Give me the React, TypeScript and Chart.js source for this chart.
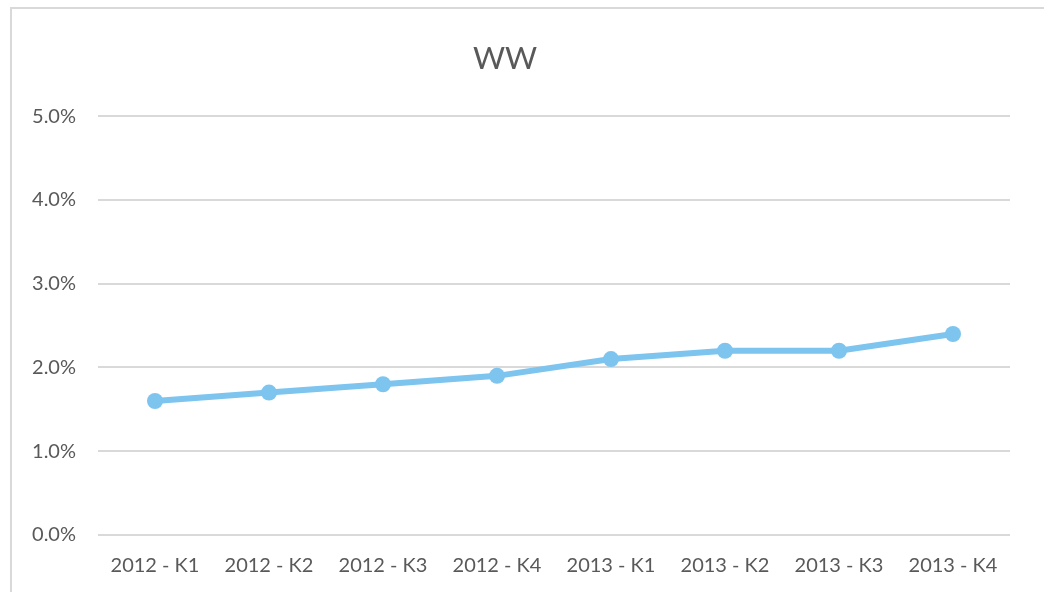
import React, { useEffect, useRef } from "react";
import { Chart, registerables } from "chart.js";

Chart.register(...registerables);

const categories = ["2012 - K1", "2012 - K2", "2012 - K3", "2012 - K4", "2013 - K1", "2013 - K2", "2013 - K3", "2013 - K4"];
const wwValues = [1.6, 1.7, 1.8, 1.9, 2.1, 2.2, 2.2, 2.4];
const yTicks = [0, 1, 2, 3, 4, 5];
const chartTitle = "WW";

export default function App() {
  const ref = useRef<HTMLCanvasElement | null>(null);
  useEffect(() => {
    if (!ref.current) return;
    const font = "Lato, 'Open Sans', sans-serif";
    const chart = new Chart(ref.current, {
      type: "line",
      data: {
        labels: categories,
        datasets: [
          {
            label: chartTitle,
            data: wwValues,
            borderColor: "#7DC4EF",
            backgroundColor: "#7DC4EF",
            borderWidth: 6,
            pointRadius: 8,
            pointHoverRadius: 8,
            pointBorderWidth: 0,
            tension: 0,
          },
        ],
      },
      options: {
        animation: false,
        responsive: false,
        maintainAspectRatio: false,
        layout: { padding: { left: 0, right: 34, top: 0, bottom: 0 } },
        plugins: {
          legend: { display: false },
          tooltip: { enabled: false },
          title: {
            display: true,
            text: chartTitle,
            color: "#595959",
            font: { family: font, size: 31, weight: "normal" },
            padding: { top: 40, bottom: 39 },
          },
        },
        scales: {
          x: {
            offset: true,
            afterFit: (s: any) => {
              s.height = 57;
            },
            grid: { display: false, drawTicks: false },
            border: { display: false },
            ticks: {
              color: "#595959",
              font: { family: font, size: 20 },
              padding: 19,
              maxRotation: 0,
              autoSkip: false,
            },
          },
          y: {
            min: 0,
            max: 5,
            afterFit: (s: any) => {
              s.width = 98;
            },
            afterBuildTicks: (s: any) => {
              s.ticks = yTicks.map((v) => ({ value: v }));
            },
            grid: { color: "#D9D9D9", lineWidth: 2, drawTicks: false },
            border: { display: false },
            ticks: {
              color: "#595959",
              font: { family: font, size: 20 },
              padding: 22,
              callback: (v: any) => Number(v).toFixed(1) + "%",
            },
          },
        },
      },
    });
    return () => chart.destroy();
  }, []);

  return (
    <div style={{ position: "fixed", left: 0, top: 0, width: 1044, height: 592, background: "#fff" }}>
      <canvas ref={ref} width={1044} height={592} style={{ position: "absolute", left: 0, top: 0 }} />
      <div
        style={{
          position: "absolute",
          left: 10,
          top: 7,
          right: -10,
          bottom: -10,
          borderLeft: "2px solid #D9D9D9",
          borderTop: "2px solid #D9D9D9",
          pointerEvents: "none",
        }}
      />
    </div>
  );
}
